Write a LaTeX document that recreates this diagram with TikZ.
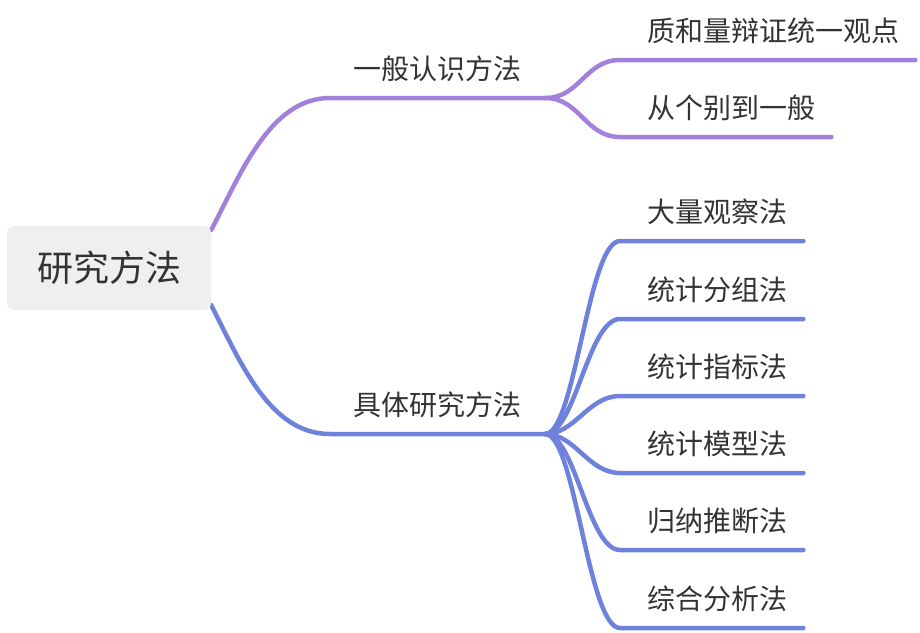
\documentclass[tikz,border=0pt]{standalone}
\usepackage{fontspec}
\newfontfamily\cjk{Noto Sans CJK SC}
\usetikzlibrary{calc,backgrounds}
\definecolor{rootgray}{RGB}{238,240,239}
\definecolor{textgray}{RGB}{51,51,51}
\definecolor{mindpurple}{RGB}{163,129,218}
\definecolor{mindblue}{RGB}{110,130,219}

\begin{document}
\begin{tikzpicture}[
  x=1pt, y=-1pt,
  rootbox/.style={fill=rootgray, rounded corners=7pt, minimum width=204pt,
                  minimum height=84pt, inner sep=0pt, text=textgray,
                  font=\cjk\fontsize{36}{36}\selectfont},
  branch/.style={anchor=south, minimum width=215pt, minimum height=56pt,
                 inner sep=0pt, text height=20pt, text depth=0pt, text=textgray,
                 font=\cjk\fontsize{28}{28}\selectfont},
  leaf/.style={branch, anchor=south west, minimum width=0pt, inner xsep=16pt},
  edge/.style={line width=4.5pt, line cap=round}
]
\useasboundingbox (0,0) rectangle (920,632);

\node[rootbox] (root) at (109,268) {研究方法};

\node[branch] (general) at (437.5,98) {一般认识方法};
\node[branch] (concrete) at (437.5,434) {具体研究方法};

\node[leaf] (dialectic) at (631,60) {质和量辩证统一观点};
\node[leaf] (induction) at (631,137) {从个别到一般};

\node[leaf] (observe) at (631,241) {大量观察法};
\node[leaf] (grouping) at (631,319) {统计分组法};
\node[leaf] (indicator) at (631,396) {统计指标法};
\node[leaf] (model) at (631,473) {统计模型法};
\node[leaf] (inference) at (631,550) {归纳推断法};
\node[leaf] (synthesis) at (631,628) {综合分析法};

\begin{scope}[on background layer]
% purple branch
\draw[edge, mindpurple] ($(root.east)+(0,-38)$) .. controls +(29,-55) and +(-60,0)
  .. (general.south west) -- (general.south east);
\draw[edge, mindpurple] (general.south east) .. controls +(35,0) and +(-35,0)
  .. ([xshift=-11pt]dialectic.south west) -- (dialectic.south east);
\draw[edge, mindpurple] (general.south east) .. controls +(35,0) and +(-35,0)
  .. ([xshift=-11pt]induction.south west) -- (induction.south east);

% blue branch
\draw[edge, mindblue] ($(root.east)+(0,37)$) .. controls +(29,57) and +(-60,0)
  .. (concrete.south west) -- (concrete.south east);
\draw[edge, mindblue] (concrete.south east) .. controls +(30,0) and +(-32,0)
  .. ([xshift=-11pt]observe.south west) -- (observe.south east);
\draw[edge, mindblue] (concrete.south east) .. controls +(30,0) and +(-32,0)
  .. ([xshift=-11pt]grouping.south west) -- (grouping.south east);
\draw[edge, mindblue] (concrete.south east) .. controls +(30,0) and +(-32,0)
  .. ([xshift=-11pt]indicator.south west) -- (indicator.south east);
\draw[edge, mindblue] (concrete.south east) .. controls +(30,0) and +(-32,0)
  .. ([xshift=-11pt]model.south west) -- (model.south east);
\draw[edge, mindblue] (concrete.south east) .. controls +(30,0) and +(-32,0)
  .. ([xshift=-11pt]inference.south west) -- (inference.south east);
\draw[edge, mindblue] (concrete.south east) .. controls +(30,0) and +(-32,0)
  .. ([xshift=-11pt]synthesis.south west) -- (synthesis.south east);
\end{scope}
\end{tikzpicture}
\end{document}
